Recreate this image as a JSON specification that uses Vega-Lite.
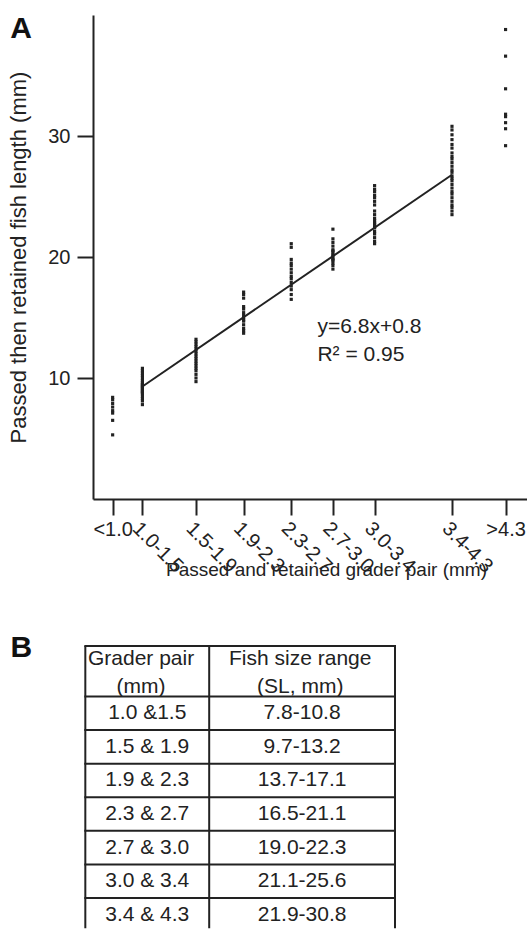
{
  "$schema": "https://vega.github.io/schema/vega-lite/v6.json",
  "padding": {"left": 7, "top": 14, "right": 0, "bottom": 0},
  "spacing": 53,
  "config": {
    "font": "Liberation Sans",
    "view": {"stroke": null},
    "axis": {
      "grid": false,
      "domainColor": "#222",
      "tickColor": "#222",
      "labelColor": "#222",
      "titleColor": "#222",
      "domainWidth": 2,
      "tickWidth": 2,
      "tickSize": 16,
      "labelFont": "Liberation Sans",
      "titleFont": "Liberation Sans",
      "labelFontSize": 20,
      "titleFontSize": 19,
      "titleFontWeight": "normal"
    }
  },
  "datasets": {
    "pts": [
      {"pair": 1.0, "len": 8.4}, {"pair": 1.0, "len": 8.2}, {"pair": 1.0, "len": 7.9}, {"pair": 1.0, "len": 7.6}, {"pair": 1.0, "len": 7.3}, {"pair": 1.0, "len": 7.1}, {"pair": 1.0, "len": 6.5}, {"pair": 1.0, "len": 5.3},
      {"pair": 1.25, "len": 10.8}, {"pair": 1.25, "len": 10.6}, {"pair": 1.25, "len": 10.4}, {"pair": 1.25, "len": 10.2}, {"pair": 1.25, "len": 10.0}, {"pair": 1.25, "len": 9.8}, {"pair": 1.25, "len": 9.6}, {"pair": 1.25, "len": 9.5}, {"pair": 1.25, "len": 9.4}, {"pair": 1.25, "len": 9.3}, {"pair": 1.25, "len": 9.2}, {"pair": 1.25, "len": 9.1}, {"pair": 1.25, "len": 9.0}, {"pair": 1.25, "len": 8.9}, {"pair": 1.25, "len": 8.8}, {"pair": 1.25, "len": 8.7}, {"pair": 1.25, "len": 8.5}, {"pair": 1.25, "len": 8.3}, {"pair": 1.25, "len": 8.1}, {"pair": 1.25, "len": 7.8},
      {"pair": 1.7, "len": 13.2}, {"pair": 1.7, "len": 13.0}, {"pair": 1.7, "len": 12.8}, {"pair": 1.7, "len": 12.6}, {"pair": 1.7, "len": 12.4}, {"pair": 1.7, "len": 12.2}, {"pair": 1.7, "len": 12.0}, {"pair": 1.7, "len": 11.8}, {"pair": 1.7, "len": 11.6}, {"pair": 1.7, "len": 11.4}, {"pair": 1.7, "len": 11.2}, {"pair": 1.7, "len": 11.0}, {"pair": 1.7, "len": 10.8}, {"pair": 1.7, "len": 10.6}, {"pair": 1.7, "len": 10.3}, {"pair": 1.7, "len": 10.0}, {"pair": 1.7, "len": 9.7},
      {"pair": 2.1, "len": 17.1}, {"pair": 2.1, "len": 16.9}, {"pair": 2.1, "len": 16.6}, {"pair": 2.1, "len": 15.9}, {"pair": 2.1, "len": 15.7}, {"pair": 2.1, "len": 15.4}, {"pair": 2.1, "len": 15.2}, {"pair": 2.1, "len": 15.0}, {"pair": 2.1, "len": 14.8}, {"pair": 2.1, "len": 14.7}, {"pair": 2.1, "len": 14.4}, {"pair": 2.1, "len": 14.1}, {"pair": 2.1, "len": 13.9}, {"pair": 2.1, "len": 13.7},
      {"pair": 2.5, "len": 21.1}, {"pair": 2.5, "len": 20.8}, {"pair": 2.5, "len": 19.8}, {"pair": 2.5, "len": 19.5}, {"pair": 2.5, "len": 19.3}, {"pair": 2.5, "len": 19.0}, {"pair": 2.5, "len": 18.7}, {"pair": 2.5, "len": 18.4}, {"pair": 2.5, "len": 18.2}, {"pair": 2.5, "len": 17.9}, {"pair": 2.5, "len": 17.6}, {"pair": 2.5, "len": 17.3}, {"pair": 2.5, "len": 16.9}, {"pair": 2.5, "len": 16.5},
      {"pair": 2.85, "len": 22.3}, {"pair": 2.85, "len": 21.5}, {"pair": 2.85, "len": 21.2}, {"pair": 2.85, "len": 20.9}, {"pair": 2.85, "len": 20.6}, {"pair": 2.85, "len": 20.5}, {"pair": 2.85, "len": 20.4}, {"pair": 2.85, "len": 20.2}, {"pair": 2.85, "len": 20.1}, {"pair": 2.85, "len": 19.9}, {"pair": 2.85, "len": 19.8}, {"pair": 2.85, "len": 19.7}, {"pair": 2.85, "len": 19.5}, {"pair": 2.85, "len": 19.3}, {"pair": 2.85, "len": 19.0},
      {"pair": 3.2, "len": 25.9}, {"pair": 3.2, "len": 25.6}, {"pair": 3.2, "len": 25.4}, {"pair": 3.2, "len": 25.1}, {"pair": 3.2, "len": 24.9}, {"pair": 3.2, "len": 24.6}, {"pair": 3.2, "len": 24.3}, {"pair": 3.2, "len": 23.8}, {"pair": 3.2, "len": 23.5}, {"pair": 3.2, "len": 23.2}, {"pair": 3.2, "len": 23.0}, {"pair": 3.2, "len": 22.8}, {"pair": 3.2, "len": 22.7}, {"pair": 3.2, "len": 22.5}, {"pair": 3.2, "len": 22.4}, {"pair": 3.2, "len": 22.1}, {"pair": 3.2, "len": 21.9}, {"pair": 3.2, "len": 21.6}, {"pair": 3.2, "len": 21.3}, {"pair": 3.2, "len": 21.1},
      {"pair": 3.85, "len": 30.8}, {"pair": 3.85, "len": 30.5}, {"pair": 3.85, "len": 30.1}, {"pair": 3.85, "len": 29.7}, {"pair": 3.85, "len": 29.3}, {"pair": 3.85, "len": 29.0}, {"pair": 3.85, "len": 28.6}, {"pair": 3.85, "len": 28.3}, {"pair": 3.85, "len": 28.1}, {"pair": 3.85, "len": 27.8}, {"pair": 3.85, "len": 27.5}, {"pair": 3.85, "len": 27.2}, {"pair": 3.85, "len": 27.0}, {"pair": 3.85, "len": 26.7}, {"pair": 3.85, "len": 26.5}, {"pair": 3.85, "len": 26.3}, {"pair": 3.85, "len": 26.0}, {"pair": 3.85, "len": 25.7}, {"pair": 3.85, "len": 25.4}, {"pair": 3.85, "len": 25.2}, {"pair": 3.85, "len": 24.9}, {"pair": 3.85, "len": 24.6}, {"pair": 3.85, "len": 24.3}, {"pair": 3.85, "len": 24.1}, {"pair": 3.85, "len": 23.8}, {"pair": 3.85, "len": 23.5},
      {"pair": 4.3, "len": 38.8}, {"pair": 4.3, "len": 36.6}, {"pair": 4.3, "len": 33.9}, {"pair": 4.3, "len": 31.8}, {"pair": 4.3, "len": 31.6}, {"pair": 4.3, "len": 31.1}, {"pair": 4.3, "len": 30.6}, {"pair": 4.3, "len": 29.2}
    ],
    "fit": [
      {"pair": 1.25, "len": 9.3},
      {"pair": 3.85, "len": 26.8}
    ],
    "table": [
      {"row": 1, "grader": "1.0 &1.5", "size": "7.8-10.8"},
      {"row": 2, "grader": "1.5 & 1.9", "size": "9.7-13.2"},
      {"row": 3, "grader": "1.9 & 2.3", "size": "13.7-17.1"},
      {"row": 4, "grader": "2.3 & 2.7", "size": "16.5-21.1"},
      {"row": 5, "grader": "2.7 & 3.0", "size": "19.0-22.3"},
      {"row": 6, "grader": "3.0 & 3.4", "size": "21.1-25.6"},
      {"row": 7, "grader": "3.4 & 4.3", "size": "21.9-30.8"}
    ],
    "hlines": [
      {"edge": -1}, {"edge": 0.5}, {"edge": 1.5}, {"edge": 2.5}, {"edge": 3.5}, {"edge": 4.5}, {"edge": 5.5}, {"edge": 6.5}
    ],
    "vlines": [
      {"edge": 0}, {"edge": 1}, {"edge": 2.5}
    ],
    "one": [{}]
  },
  "vconcat": [
    {
      "width": 434,
      "height": 484,
      "resolve": {"axis": {"x": "independent", "y": "independent"}},
      "layer": [
        {
          "data": {"name": "pts"},
          "mark": {"type": "point", "shape": "square", "filled": true, "size": 10, "color": "#222", "opacity": 1},
          "encoding": {
            "x": {
              "field": "pair", "type": "quantitative",
              "scale": {"domain": [0.835, 4.48], "nice": false, "zero": false},
              "axis": {
                "orient": "bottom",
                "values": [1.25, 1.7, 2.1, 2.5, 2.85, 3.2, 3.85],
                "labelExpr": "datum.value == 1.25 ? '1.0-1.5' : datum.value == 1.7 ? '1.5-1.9' : datum.value == 2.1 ? '1.9-2.3' : datum.value == 2.5 ? '2.3-2.7' : datum.value == 2.85 ? '2.7-3.0' : datum.value == 3.2 ? '3.0-3.4' : '3.4-4.3'",
                "labelAngle": 45,
                "labelAlign": "left",
                "labelBaseline": "top",
                "labelFlush": false,
                "labelOverlap": false,
                "labelBound": false,
                "labelPadding": 3,
                "title": "Passed and retained grader pair (mm)",
                "titleX": 233,
                "titleY": 61
              }
            },
            "y": {
              "field": "len", "type": "quantitative",
              "scale": {"domain": [0, 40], "nice": false, "zero": false},
              "axis": {
                "orient": "left",
                "values": [10, 20, 30],
                "labelPadding": 7,
                "title": "Passed then retained fish length (mm)",
                "titleFontSize": 22,
                "titlePadding": 17
              }
            }
          }
        },
        {
          "data": {"name": "fit"},
          "mark": {"type": "line", "color": "#222", "strokeWidth": 2},
          "encoding": {
            "x": {
              "field": "pair", "type": "quantitative",
              "axis": {
                "orient": "bottom",
                "values": [1, 4.3],
                "labelExpr": "datum.value < 2 ? '<1.0' : '>4.3'",
                "labelAngle": 0,
                "labelAlign": "center",
                "labelBaseline": "top",
                "labelFlush": false,
                "labelOverlap": false,
                "labelBound": false,
                "labelPadding": 4,
                "domain": false,
                "title": null
              }
            },
            "y": {"field": "len", "type": "quantitative", "axis": null}
          }
        },
        {
          "data": {"name": "one"},
          "mark": {"type": "text", "text": "y=6.8x+0.8", "align": "left", "baseline": "alphabetic", "fontSize": 21, "color": "#222"},
          "encoding": {
            "x": {"datum": 2.72, "type": "quantitative", "axis": null},
            "y": {"datum": 13.7, "type": "quantitative", "axis": null}
          }
        },
        {
          "data": {"name": "one"},
          "mark": {"type": "text", "text": "R² = 0.95", "align": "left", "baseline": "alphabetic", "fontSize": 21, "color": "#222"},
          "encoding": {
            "x": {"datum": 2.72, "type": "quantitative", "axis": null},
            "y": {"datum": 11.4, "type": "quantitative", "axis": null}
          }
        },
        {
          "data": {"name": "one"},
          "mark": {"type": "text", "text": "A", "align": "left", "baseline": "alphabetic", "fontSize": 30, "fontWeight": "bold", "color": "#111"},
          "encoding": {
            "x": {"datum": 0.1404, "type": "quantitative", "axis": null},
            "y": {"datum": 38.07, "type": "quantitative", "axis": null}
          }
        }
      ]
    },
    {
      "width": 302,
      "height": 284,
      "layer": [
        {
          "data": {"name": "hlines"},
          "mark": {"type": "rule", "color": "#222", "strokeWidth": 2, "strokeCap": "square"},
          "encoding": {
            "y": {"field": "edge", "type": "quantitative", "scale": {"domain": [-1, 7.45], "reverse": true, "nice": false, "zero": false}, "axis": null},
            "x": {"datum": 0, "type": "quantitative", "scale": {"domain": [0.062, 2.5], "nice": false, "zero": false}, "axis": null},
            "x2": {"datum": 2.5}
          }
        },
        {
          "data": {"name": "vlines"},
          "mark": {"type": "rule", "color": "#222", "strokeWidth": 2},
          "encoding": {
            "x": {"field": "edge", "type": "quantitative", "axis": null},
            "y": {"datum": -1, "type": "quantitative", "axis": null},
            "y2": {"datum": 7.4}
          }
        },
        {
          "data": {"name": "one"},
          "mark": {"type": "text", "text": "Grader pair\n(mm)", "lineBreak": "\n", "lineHeight": 28, "align": "center", "baseline": "alphabetic", "fontSize": 21, "color": "#222"},
          "encoding": {
            "x": {"datum": 0.45, "type": "quantitative", "axis": null},
            "y": {"datum": -0.435, "type": "quantitative", "axis": null}
          }
        },
        {
          "data": {"name": "one"},
          "mark": {"type": "text", "text": "Fish size range\n(SL, mm)", "lineBreak": "\n", "lineHeight": 28, "align": "center", "baseline": "alphabetic", "fontSize": 21, "color": "#222"},
          "encoding": {
            "x": {"datum": 1.735, "type": "quantitative", "axis": null},
            "y": {"datum": -0.435, "type": "quantitative", "axis": null}
          }
        },
        {
          "data": {"name": "table"},
          "mark": {"type": "text", "align": "center", "baseline": "middle", "fontSize": 21, "color": "#222"},
          "encoding": {
            "x": {"datum": 0.5, "type": "quantitative", "axis": null},
            "y": {"field": "row", "type": "quantitative", "axis": null},
            "text": {"field": "grader"}
          }
        },
        {
          "data": {"name": "table"},
          "mark": {"type": "text", "align": "center", "baseline": "middle", "fontSize": 21, "color": "#222"},
          "encoding": {
            "x": {"datum": 1.75, "type": "quantitative", "axis": null},
            "y": {"field": "row", "type": "quantitative", "axis": null},
            "text": {"field": "size"}
          }
        },
        {
          "data": {"name": "one"},
          "mark": {"type": "text", "text": "B", "align": "left", "baseline": "alphabetic", "fontSize": 30, "fontWeight": "bold", "color": "#111"},
          "encoding": {
            "x": {"datum": -0.605, "type": "quantitative", "axis": null},
            "y": {"datum": -0.673, "type": "quantitative", "axis": null}
          }
        }
      ]
    }
  ]
}
